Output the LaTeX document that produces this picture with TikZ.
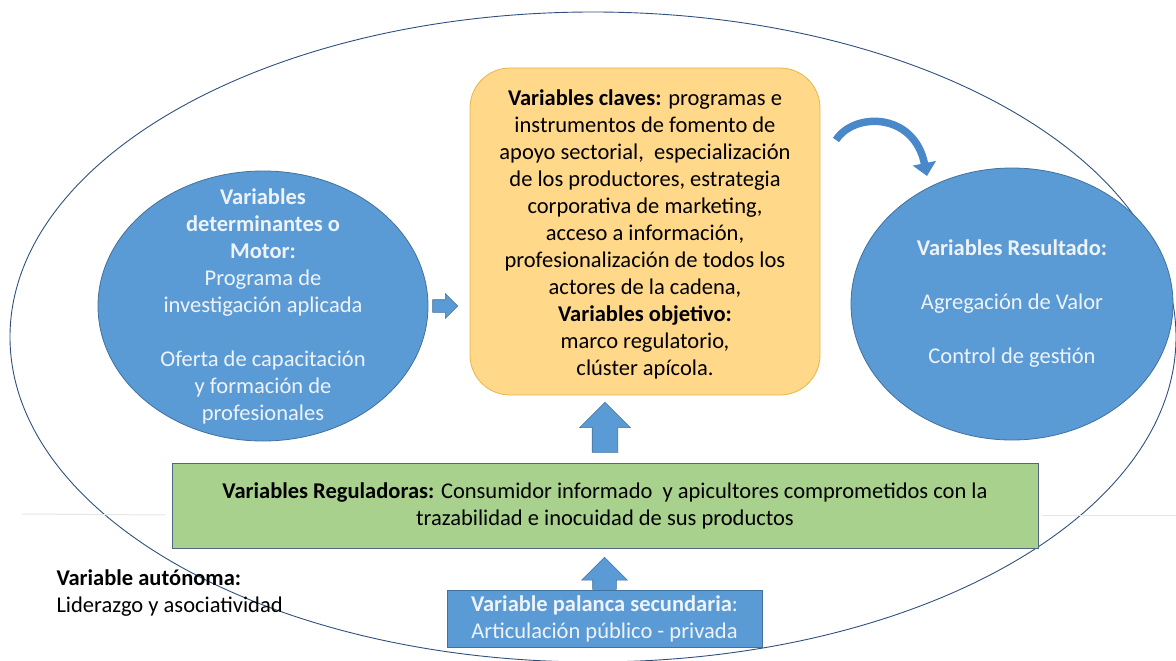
\documentclass[tikz,border=0pt]{standalone}
\usepackage{fontspec}
\setmainfont{Carlito}
\usetikzlibrary{calc, positioning}
\usetikzlibrary{arrows.meta}
\usetikzlibrary{shapes.geometric, shapes.arrows}

\definecolor{blueFill}{HTML}{5B9BD5}
\definecolor{blueEdge}{HTML}{41719C}
\definecolor{arcBlue}{HTML}{4A89C9}
\definecolor{yellowFill}{HTML}{FFD88A}
\definecolor{yellowEdge}{HTML}{E8B54A}
\definecolor{greenFill}{HTML}{A9D18E}
\definecolor{greenEdge}{HTML}{50677F}
\definecolor{outerLine}{HTML}{2F4F7F}
\definecolor{lightText}{HTML}{EEF3FA}

\begin{document}
\begin{tikzpicture}[x=1pt, y=-1pt,
  txt/.style={align=center, font=\fontsize{22.5}{27}\selectfont},
  bluecirc/.style={ellipse, draw=blueEdge, fill=blueFill, line width=0.8pt, inner sep=0pt},
  circtext/.style={txt, text=lightText},
  clavebox/.style={txt, draw=yellowEdge, fill=yellowFill, rounded corners=40pt, line width=0.8pt},
  regbox/.style={txt, draw=greenEdge, fill=greenFill, line width=0.8pt},
  palbox/.style={txt, draw=blueEdge, fill=blueFill, text=lightText, line width=0.8pt},
  bigarrow/.style={single arrow, draw=blueEdge, fill=blueFill, line width=0.6pt,
    inner xsep=0pt, single arrow head extend=#1}
]
\useasboundingbox (0,0) rectangle (1176,661);

% outer frame and faint slide lines
\draw[outerLine, line width=0.9pt] (593,337) ellipse [x radius=583pt, y radius=325pt];
\draw[gray!20, line width=1pt] (22,514) -- (165,515);
\draw[gray!20, line width=1pt] (1042,515) -- (1176,515);

% blue circles
\node[bluecirc, minimum width=330pt, minimum height=270pt] (motor) at (263,306) {};
\node[circtext] (motortext) at (motor) {\textbf{Variables}\\ \textbf{determinantes o}\\ \textbf{Motor:}\\
  Programa de\\ investigación aplicada\\[27pt] Oferta de capacitación\\ y formación de\\ profesionales};

\node[bluecirc, minimum width=322pt, minimum height=272pt] (resultado) at (1012,304) {};
\node[circtext] (resultadotext) at (resultado) {\textbf{Variables Resultado:}\\[27pt]
  Agregación de Valor\\[27pt] Control de gestión};

% central boxes
\node[clavebox, minimum width=350pt, minimum height=327pt] (clave) at (645,231.5) {};
\node[txt] (clavetext) at ([yshift=-3pt]clave.center)
  {\textbf{Variables claves:} programas e\\ instrumentos de fomento de\\
   apoyo sectorial,\ \ especialización\\ de los productores, estrategia\\
   corporativa de marketing,\\ acceso a información,\\
   profesionalización de todos los\\ actores de la cadena,\\
   \textbf{Variables objetivo:}\\ marco regulatorio,\\ clúster apícola.};

\node[regbox, minimum width=866pt, minimum height=85pt] (reguladora) at (605,505.5)
  {\textbf{Variables Reguladoras:} Consumidor informado\ \ y apicultores comprometidos con la\\
   trazabilidad e inocuidad de sus productos};

\node[palbox, minimum width=315pt, minimum height=57pt] (palanca) at (604.5,618.5)
  {\textbf{Variable palanca secundaria}:\\ Articulación público - privada};

\node[txt, align=left, anchor=west] (autonoma) at (53,593)
  {\textbf{Variable autónoma:}\\ Liderazgo y asociatividad};

% block arrows
\node[bigarrow=12.5pt, inner ysep=12.5pt, minimum height=50pt, rotate=90, anchor=tail]
  (upA) at ([yshift=10pt]reguladora.north) {};
\node[bigarrow=11pt, inner ysep=11.5pt, minimum height=32pt, rotate=90, anchor=tail]
  (upB) at (palanca.north) {};
\node[bigarrow=6pt, inner ysep=6pt, minimum height=25pt, anchor=tail]
  (toclave) at ([xshift=4pt]motor.east) {};

% curved arrow to the result
\coordinate (arcstart) at (836,140);
\coordinate (arcend) at (927,176);
\draw[arcBlue, line width=7.5pt, -{Triangle[length=13pt, width=23pt]}]
  (arcstart) .. controls (854,112) and (914,112) .. (arcend);
\end{tikzpicture}
\end{document}
